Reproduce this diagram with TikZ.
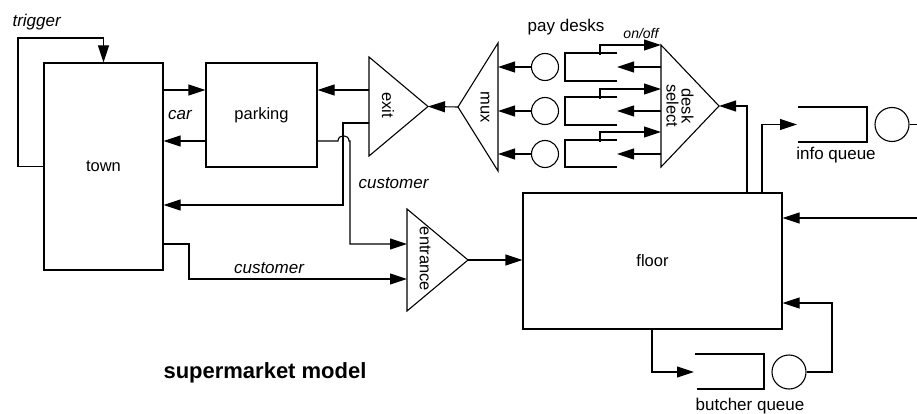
\documentclass[tikz,border=0pt]{standalone}
\usepackage{fontspec}
\setmainfont{Liberation Sans}
\usetikzlibrary{arrows.meta}
\begin{document}
\begin{tikzpicture}[x=1pt,y=-1pt, line width=1.1pt,
  arr/.style={-{Triangle[length=17pt,width=11pt]}},
  box/.style={draw, rectangle, inner sep=0pt, font=\fontsize{16.5}{19}\selectfont},
  lbl/.style={inner sep=0pt, font=\fontsize{17}{20}\selectfont},
  ilbl/.style={inner sep=0pt, font=\fontsize{17}{20}\selectfont\itshape},
  rlbl/.style={inner sep=0pt, rotate=-90, align=center, font=\fontsize{16.5}{15}\selectfont},
  srv/.style={draw, circle, inner sep=0pt, minimum size=27pt},
  bsrv/.style={draw, circle, inner sep=0pt, minimum size=34pt},
  ]
\useasboundingbox (0,0) rectangle (917,414);

% boxes
\node[box, minimum width=119pt, minimum height=207pt] (town) at (103.5,166.5) {town};
\node[box, minimum width=111pt, minimum height=104pt] (parking) at (261.5,115) {parking};
\node[box, minimum width=259pt, minimum height=136pt] (floor) at (652.5,261) {floor};

% triangles
\coordinate (exitT) at (369,57); \coordinate (exitB) at (369,156); \coordinate (exitA) at (428,106.5);
\draw (exitT) -- (exitB) -- (exitA) -- cycle;
\coordinate (muxT) at (498,43); \coordinate (muxB) at (498,171); \coordinate (muxA) at (458,107);
\draw (muxT) -- (muxB) -- (muxA) -- cycle;
\coordinate (dsT) at (661,45); \coordinate (dsB) at (661,167); \coordinate (dsA) at (719,106);
\draw (dsT) -- (dsB) -- (dsA) -- cycle;
\coordinate (entT) at (407,209); \coordinate (entB) at (407,311); \coordinate (entA) at (468,260);
\draw (entT) -- (entB) -- (entA) -- cycle;

% pay desk queues and servers
\draw (617,53) -- (565,53) -- (565,81) -- (617,81);
\draw (617,97) -- (565,97) -- (565,125) -- (617,125);
\draw (617,140) -- (565,140) -- (565,167) -- (617,167);
\coordinate (q1) at (617,67); \coordinate (q2) at (617,111); \coordinate (q3) at (617,154);
\node[srv] (c1) at (545,67) {};
\node[srv] (c2) at (545,111) {};
\node[srv] (c3) at (545,154) {};

% info queue
\draw (798,107) -- (867,107) -- (867,142) -- (798,142);
\coordinate (iq) at (797,124.5);
\node[bsrv] (ic) at (892,124.5) {};
\coordinate (outR) at (917,124.5);
\coordinate (inR) at (917,218);

% butcher queue
\draw (695,354) -- (764,354) -- (764,389) -- (697,389);
\coordinate (bq) at (694,372);
\node[bsrv] (bc) at (789,372) {};

% connectors
\draw[arr] (town.west) -- (18,166.5) |- (103.5,38) -- (town.north);
\draw[arr] (town.east |- 0,90) -- (parking.west |- 0,90);
\draw[arr] (parking.west |- 0,141) -- (town.east |- 0,141);
\draw[arr] (exitT |- 0,90) -- (parking.east |- 0,90);
\draw[arr] (muxA) -- (exitA);
\draw[arr] (c1.west) -- (muxT |- c1);
\draw[arr] (c2.west) -- (muxT |- c2);
\draw[arr] (c3.west) -- (muxT |- c3);
\draw[arr] (dsT |- q1) -- (q1);
\draw[arr] (dsT |- q2) -- (q2);
\draw[arr] (dsT |- q3) -- (q3);
\draw[arr] (600,55) -- (600,45) -- (dsT);
\draw[arr] (600,99) -- (600,89) -- (dsT |- 0,89);
\draw[arr] (600,142) -- (600,132) -- (dsT |- 0,132);
\draw[arr] (floor.north -| 747,0) |- (dsA);
\draw[arr] (floor.north -| 762,0) |- (iq);
\draw (ic.east) -- (outR);
\draw[arr] (inR) -- (floor.east |- inR);
\draw[arr] (floor.south -| 652,0) |- (bq);
\draw[arr] (bc.east) -| (832,303) -- (floor.east |- 0,303);
\draw[arr] (exitT |- 0,123) -- (343,123) -- (343,205) -- (town.east |- 0,205);
\draw[arr] (parking.east |- 0,141) -- (338,141) .. controls (338,134) and (349,134) .. (349,141) -- (350,141) -- (350,244) -- (entT |- 0,244);
\draw[arr] (town.east |- 0,244) -- (189,244) -- (189,279) -- (entT |- 0,279);
\draw[arr] (entA) -- (floor.west |- entA);

% labels
\node[ilbl, anchor=west] (ltrig) at (12,22) {trigger};
\node[ilbl] (lcar) at (180,115) {car};
\node[ilbl, anchor=west] (lcust1) at (358,183) {customer};
\node[ilbl] (lcust2) at (269,268) {customer};
\node[lbl] (lpay) at (566,27) {pay desks};
\node[inner sep=0pt, font=\fontsize{14}{16}\selectfont\itshape] (lonoff) at (641,33) {on/off};
\node[lbl] (linfo) at (836,155) {info queue};
\node[lbl] (lbutch) at (750,406) {butcher queue};
\node[rlbl] (lexit) at (388,105) {exit};
\node[rlbl] (lmux) at (485,107) {mux};
\node[rlbl] (lds) at (680,106) {desk\\select};
\node[rlbl] (lent) at (425,259) {entrance};
\node[inner sep=0pt, font=\fontsize{22}{25}\selectfont\bfseries] (title) at (265,373) {supermarket model};
\end{tikzpicture}
\end{document}
